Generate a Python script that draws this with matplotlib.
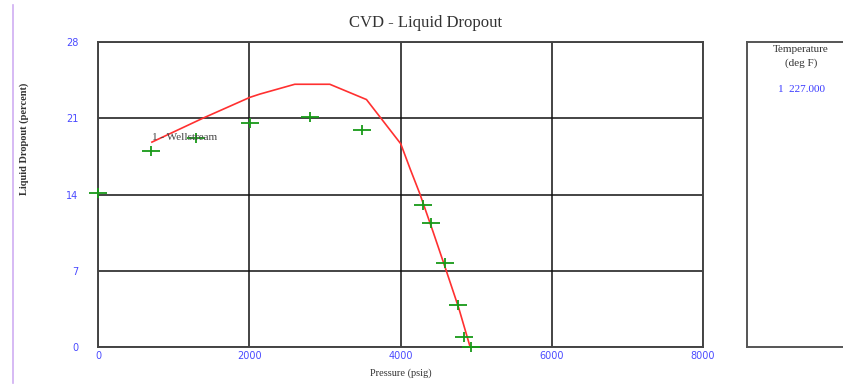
import matplotlib
matplotlib.use("Agg")
import matplotlib.pyplot as plt
from matplotlib.path import Path
from matplotlib.lines import Line2D

# Simulated CVD liquid dropout curve (pressure psig, dropout %)
calc_p = [713, 1390, 2008, 2140, 2602, 3065, 3550, 4003, 4130, 4254, 4430, 4606, 4770, 4922]
calc_y = [18.8, 21.0, 22.9, 23.2, 24.1, 24.1, 22.7, 18.65, 16.3, 14.1, 10.6, 7.0, 3.6, 0.0]

# Measured lab points
lab_p = [0, 700, 1295, 2008, 2800, 3497, 4298, 4400, 4593, 4756, 4844, 4932]
lab_y = [14.15, 17.95, 19.2, 20.55, 21.1, 19.9, 13.0, 11.4, 7.7, 3.9, 0.9, 0.0]

x_ticks = [0, 2000, 4000, 6000, 8000]
y_ticks = [0, 7, 14, 21, 28]
temps = [227.0]

W, H = 843, 385
fig = plt.figure(figsize=(W / 100, H / 100), dpi=100)
serif = ["Liberation Serif", "DejaVu Serif"]
tick_blue = "#4a4aff"

ax = fig.add_axes([98 / W, 1 - 347.3 / H, 605 / W, 305.6 / H])
ax.plot(calc_p, calc_y, color="#ff3030", lw=1.2, zorder=3)

# wide, short plus marker
plus = Path([(-1.7, 0), (1.7, 0), (0, -1.0), (0, 1.0)],
            [Path.MOVETO, Path.LINETO, Path.MOVETO, Path.LINETO])
ax.plot(lab_p, lab_y, ls="none", marker=plus, ms=12.5, mew=1.3,
        color="#189a18", zorder=4, clip_on=False)

ax.set_xlim(0, 8000)
ax.set_ylim(0, 28)
ax.set_xticks(x_ticks)
ax.set_yticks(y_ticks)
ax.grid(True, color="#111111", lw=1.1)
ax.set_axisbelow(True)
ax.tick_params(length=0, labelsize=7, labelcolor=tick_blue)
ax.tick_params(axis="y", pad=14)
ax.tick_params(axis="x", pad=3)
for s in ax.spines.values():
    s.set_color("#444444")
    s.set_linewidth(1.4)

ax.text(713, 19.25, "1 - Wellstream", fontsize=8, family=serif,
        color="#444444", ha="left", va="center", zorder=5)

fig.text(426 / W, 1 - 23 / H, "CVD - Liquid Dropout", fontsize=12,
         family=serif, color="#333333", ha="center", va="center")
fig.text(401 / W, 1 - 373 / H, "Pressure (psig)", fontsize=7.5,
         family=serif, color="#333333", ha="center", va="center")
fig.text(24.5 / W, 1 - 139 / H, "Liquid Dropout (percent)", fontsize=7.5,
         family=serif, weight="bold", color="#333333", rotation=90,
         ha="center", va="center")

# temperature legend box on the right
leg = fig.add_axes([746.5 / W, 1 - 347 / H, 140 / W, 305 / H])
leg.set_xticks([])
leg.set_yticks([])
for s in leg.spines.values():
    s.set_color("#555555")
    s.set_linewidth(1.4)
fig.text(801 / W, 1 - 50 / H, "Temperature", fontsize=8, family=serif,
         color="#333333", ha="center", va="center")
fig.text(801 / W, 1 - 63 / H, "(deg F)", fontsize=8, family=serif,
         color="#333333", ha="center", va="center")
for i, t in enumerate(temps):
    fig.text(802 / W, 1 - (90 + 14 * i) / H, f"{i + 1}  {t:.3f}", fontsize=8,
             family=serif, color="#3a3aff", ha="center", va="center")

# thin vertical separator on the far left
fig.add_artist(Line2D([12.5 / W, 12.5 / W], [1 - 5 / H, 1 - 383 / H],
                      color="#cfaef2", lw=1.2))

fig.savefig("out.png", dpi=100)
